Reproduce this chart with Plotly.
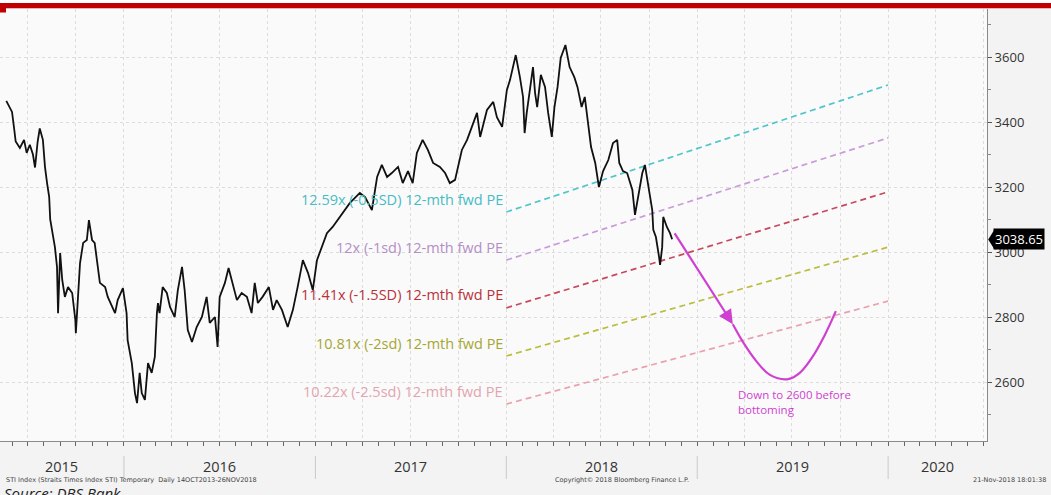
import plotly.graph_objects as go
import pandas as pd

# ---------------- data ----------------
sti_dates = [
    "2015-05-21", "2015-06-01", "2015-06-05", "2015-06-08", "2015-06-16", "2015-06-24", "2015-06-29",
    "2015-07-05", "2015-07-11", "2015-07-15", "2015-07-20", "2015-07-24", "2015-07-30", "2015-08-03",
    "2015-08-07", "2015-08-11", "2015-08-13", "2015-08-18", "2015-08-22", "2015-08-26", "2015-08-28",
    "2015-09-01", "2015-09-05", "2015-09-10", "2015-09-16", "2015-09-24", "2015-09-30", "2015-10-01",
    "2015-10-05", "2015-10-09", "2015-10-15", "2015-10-22", "2015-10-26", "2015-11-01", "2015-11-06",
    "2015-11-12", "2015-11-16", "2015-11-26", "2015-12-01", "2015-12-15", "2015-12-20", "2015-12-30",
    "2016-01-06", "2016-01-08", "2016-01-16", "2016-01-22", "2016-01-26", "2016-01-31", "2016-02-04",
    "2016-02-10", "2016-02-16", "2016-02-23", "2016-02-29", "2016-03-04", "2016-03-06", "2016-03-09",
    "2016-03-15", "2016-03-23", "2016-03-29", "2016-04-07", "2016-04-13", "2016-04-21", "2016-04-26",
    "2016-05-02", "2016-05-10", "2016-05-19", "2016-05-29", "2016-06-07", "2016-06-13", "2016-06-23",
    "2016-06-28", "2016-07-02", "2016-07-12", "2016-07-19", "2016-07-27", "2016-08-04", "2016-08-13",
    "2016-08-23", "2016-09-01", "2016-09-07", "2016-09-13", "2016-09-22", "2016-10-04", "2016-10-12",
    "2016-10-19", "2016-10-29", "2016-11-09", "2016-11-19", "2016-11-28", "2016-12-08", "2016-12-18",
    "2016-12-27", "2017-01-04", "2017-01-13", "2017-01-23", "2017-02-03", "2017-02-17", "2017-03-02",
    "2017-03-08", "2017-03-27", "2017-04-06", "2017-04-19", "2017-04-29", "2017-05-08", "2017-05-18",
    "2017-05-27", "2017-06-08", "2017-06-17", "2017-06-27", "2017-07-06", "2017-07-14", "2017-07-25",
    "2017-08-04", "2017-08-14", "2017-08-27", "2017-09-06", "2017-09-15", "2017-09-25", "2017-10-01",
    "2017-10-08", "2017-10-18", "2017-10-27", "2017-11-06", "2017-11-12", "2017-11-25", "2017-12-07",
    "2017-12-14", "2017-12-24", "2018-01-02", "2018-01-08", "2018-01-19", "2018-01-27", "2018-02-02",
    "2018-02-05", "2018-02-09", "2018-02-15", "2018-02-21", "2018-02-25", "2018-03-01", "2018-03-08",
    "2018-03-16", "2018-03-22", "2018-03-29", "2018-04-03", "2018-04-09", "2018-04-15", "2018-04-24",
    "2018-05-02", "2018-05-11", "2018-05-17", "2018-05-25", "2018-05-31", "2018-06-04", "2018-06-12",
    "2018-06-20", "2018-06-27", "2018-07-05", "2018-07-15", "2018-07-24", "2018-08-01", "2018-08-05",
    "2018-08-12", "2018-08-20", "2018-08-30", "2018-09-04", "2018-09-10", "2018-09-18", "2018-09-23",
    "2018-09-29", "2018-10-07", "2018-10-09", "2018-10-14", "2018-10-20", "2018-10-22", "2018-10-26",
    "2018-10-28", "2018-11-04", "2018-11-10", "2018-11-14",
]
sti_values = [
    3465, 3431, 3380, 3340, 3320, 3345, 3305,
    3330, 3300, 3260, 3340, 3380, 3345, 3262,
    3212, 3170, 3100, 3058, 3015, 2954, 2812,
    2997, 2914, 2862, 2892, 2874, 2791, 2750,
    2862, 2966, 3028, 3037, 3098, 3037, 3028,
    2954, 2905, 2892, 2862, 2812, 2852, 2889,
    2812, 2729, 2658, 2566, 2535, 2628, 2566,
    2545, 2658, 2628, 2677, 2812, 2843, 2812,
    2892, 2874, 2831, 2800, 2883, 2954, 2883,
    2760, 2723, 2769, 2800, 2862, 2782, 2800,
    2708, 2862, 2905, 2951, 2905, 2852, 2874,
    2862, 2812, 2905, 2843, 2862, 2892, 2822,
    2852, 2822, 2769, 2822, 2892, 2975, 2935,
    2883, 2975, 3015, 3058, 3077, 3108, 3138,
    3151, 3182, 3169, 3129, 3231, 3268, 3231,
    3243, 3262, 3212, 3249, 3212, 3305, 3345,
    3314, 3274, 3262, 3243, 3212, 3222, 3262,
    3314, 3345, 3385, 3428, 3354, 3437, 3462,
    3415, 3385, 3498, 3529, 3606, 3538, 3477,
    3366, 3428, 3498, 3569, 3489, 3446, 3545,
    3508, 3428, 3354, 3446, 3508, 3597, 3637,
    3569, 3538, 3508, 3446, 3477, 3428, 3323,
    3274, 3200, 3249, 3283, 3335, 3345, 3274,
    3249, 3243, 3191, 3114, 3169, 3243, 3268,
    3212, 3129, 3068, 3046, 2985, 2960, 3015,
    3108, 3077, 3058, 3039,
]
last_price = 3038.65

band_dates = ["2018-01-01", "2020-01-01"]
band_labels = [
    "12.59x (-0.5SD) 12-mth fwd PE",
    "12x (-1sd) 12-mth fwd PE",
    "11.41x (-1.5SD) 12-mth fwd PE",
    "10.81x (-2sd) 12-mth fwd PE",
    "10.22x (-2.5sd) 12-mth fwd PE",
]
band_start = [3123, 2975, 2828, 2680, 2532]
band_end = [3514, 3351, 3185, 3015, 2849]
band_line_colors = ["#4fc6c8", "#c99bd8", "#c9485c", "#bcbc3e", "#e9a2ab"]
band_text_colors = ["#47bcc4", "#b48fc6", "#b8323a", "#a6a632", "#e2a5af"]

proj_arrow_from = ("2018-11-17", 3062)
proj_arrow_to = ("2019-03-10", 2778)
proj_dates = ["2019-03-10", "2019-04-02", "2019-04-25", "2019-05-20", "2019-06-24",
              "2019-07-16", "2019-08-08", "2019-09-02", "2019-09-23"]
proj_values = [2778, 2714, 2662, 2622, 2609, 2628, 2674, 2745, 2818]
proj_text = "Down to 2600 before<br>bottoming"
proj_text_pos = ("2019-03-16", 2592)

year_labels = ["2015", "2016", "2017", "2018", "2019", "2020"]
y_ticks = [2600, 2800, 3000, 3200, 3400, 3600]

x_range = ["2015-05-09", "2020-07-08"]
y_range = [2418.5, 3747.7]

FONT = "Open Sans"
MAGENTA = "#cf3fd0"

# ---------------- figure ----------------
fig = go.Figure()

for lab, s, e, lc in zip(band_labels, band_start, band_end, band_line_colors):
    fig.add_trace(go.Scatter(x=band_dates, y=[s, e], mode="lines",
                             line=dict(color=lc, width=1.7, dash="6px,4px"),
                             hoverinfo="skip", showlegend=False))

fig.add_trace(go.Scatter(x=pd.to_datetime(sti_dates), y=sti_values, mode="lines",
                         line=dict(color="#111111", width=1.8),
                         name="STI", showlegend=False))

fig.add_trace(go.Scatter(x=proj_dates, y=proj_values, mode="lines",
                         line=dict(color=MAGENTA, width=2.2, shape="spline"),
                         hoverinfo="skip", showlegend=False))

annotations = []
for lab, s, tc in zip(band_labels, band_start, band_text_colors):
    annotations.append(dict(x=band_dates[0], y=s, xref="x", yref="y", text=lab,
                            showarrow=False, xanchor="right", yanchor="middle",
                            xshift=-1, yshift=13,
                            font=dict(family=FONT, size=14.5, color=tc)))

annotations.append(dict(x=proj_arrow_to[0], y=proj_arrow_to[1], xref="x", yref="y",
                        ax=proj_arrow_from[0], ay=proj_arrow_from[1], axref="x", ayref="y",
                        text="", showarrow=True, arrowhead=2, arrowsize=1.3, arrowwidth=2.2,
                        arrowcolor=MAGENTA))
annotations.append(dict(x=proj_text_pos[0], y=proj_text_pos[1], xref="x", yref="y",
                        text=proj_text, showarrow=False, xanchor="left", yanchor="top",
                        align="left", font=dict(family=FONT, size=11.5, color=MAGENTA)))

# plot area geometry (pixels) used for placing text below the axis
PLOT_W = 987.0
PLOT_BOTTOM = 441.0
PLOT_H = 432.0
def py(p):
    return (PLOT_BOTTOM - p) / PLOT_H

# year labels centred in the visible part of each year
xr0, xr1 = pd.Timestamp(x_range[0]), pd.Timestamp(x_range[1])
shapes = []
for yl in year_labels:
    a = max(pd.Timestamp(f"{yl}-01-01"), xr0)
    b = min(pd.Timestamp(f"{int(yl)+1}-01-01"), xr1)
    mid = a + (b - a) / 2
    annotations.append(dict(x=mid, y=py(466), xref="x", yref="paper", text=yl,
                            showarrow=False, xanchor="center", yanchor="middle",
                            font=dict(family=FONT, size=14.5, color="#333333")))
    if pd.Timestamp(f"{yl}-01-01") > xr0:
        shapes.append(dict(type="line", xref="x", yref="paper",
                           x0=f"{yl}-01-01", x1=f"{yl}-01-01", y0=py(456), y1=py(479),
                           line=dict(color="#c9c9c9", width=1)))

small = dict(family="DejaVu Sans", size=6.5, color="#444444")
annotations += [
    dict(x=4 / PLOT_W, y=py(480), xref="paper", yref="paper", showarrow=False,
         text="STI Index (Straits Times Index STI) Temporary  Daily 14OCT2013-26NOV2018",
         xanchor="left", yanchor="middle", font=small),
    dict(x=553 / PLOT_W, y=py(480), xref="paper", yref="paper", showarrow=False,
         text="Copyright© 2018 Bloomberg Finance L.P.", xanchor="left", yanchor="middle", font=small),
    dict(x=1048 / PLOT_W, y=py(480), xref="paper", yref="paper", showarrow=False,
         text="21-Nov-2018 18:01:38", xanchor="right", yanchor="middle", font=small),
    dict(x=2 / PLOT_W, y=py(481), xref="paper", yref="paper", showarrow=False,
         text="<i>Source: DBS Bank</i>", xanchor="left", yanchor="top",
         font=dict(family=FONT, size=15, color="#222222")),
]

# last price tag on the right axis
annotations.append(dict(x=1.0, y=last_price, xref="paper", yref="y", text=f"{last_price:.2f}",
                        showarrow=False, xanchor="left", yanchor="middle", xshift=6,
                        bgcolor="#000000", borderpad=1,
                        font=dict(family=FONT, size=13, color="#ffffff")))
shapes.append(dict(type="path", xref="paper", yref="y",
                   path=f"M 1.0012 {last_price} L 1.0075 {last_price + 30} L 1.0075 {last_price - 30} Z",
                   fillcolor="#000000", line=dict(width=0)))

# red header bar
shapes.append(dict(type="rect", xref="paper", yref="paper", x0=0, x1=1.07,
                   y0=py(8.3), y1=py(3), fillcolor="#c00000", line=dict(width=0)))
shapes.append(dict(type="rect", xref="paper", yref="paper", x0=0, x1=6 / PLOT_W,
                   y0=py(12.5), y1=py(8), fillcolor="#c00000", line=dict(width=0)))
# white strip above the red bar
shapes.append(dict(type="rect", xref="paper", yref="paper", x0=0, x1=1.07,
                   y0=py(3), y1=py(-2), fillcolor="#ffffff", line=dict(width=0)))

fig.update_layout(
    width=1051, height=495,
    margin=dict(l=0, r=64, t=9, b=54),
    paper_bgcolor="#f3f3f3",
    plot_bgcolor="#fafafa",
    font=dict(family=FONT, color="#333333"),
    annotations=annotations,
    shapes=shapes,
    showlegend=False,
    xaxis=dict(range=x_range, type="date", tick0="2015-01-01", dtick="M3",
               showgrid=True, gridcolor="#dcdcdc", griddash="dot", gridwidth=1,
               showticklabels=False, ticks="outside", ticklen=4, tickcolor="#666666",
               showline=True, linecolor="#8a8a8a", linewidth=1, zeroline=False,
               minor=dict(dtick="M1", tick0="2015-01-01", ticks="outside", ticklen=4,
                          tickcolor="#666666", showgrid=False)),
    yaxis=dict(range=y_range, side="right", tickvals=y_ticks,
               showgrid=True, gridcolor="#dcdcdc", griddash="dot", gridwidth=1,
               ticks="outside", ticklen=4, tickcolor="#555555",
               showline=True, linecolor="#8a8a8a", linewidth=1, zeroline=False,
               tickfont=dict(family=FONT, size=13, color="#333333"),
               minor=dict(tickvals=[2500, 2700, 2900, 3100, 3300, 3500, 3700],
                          ticks="outside", ticklen=3, tickcolor="#888888", showgrid=False)),
)

fig.write_html("out.html")
